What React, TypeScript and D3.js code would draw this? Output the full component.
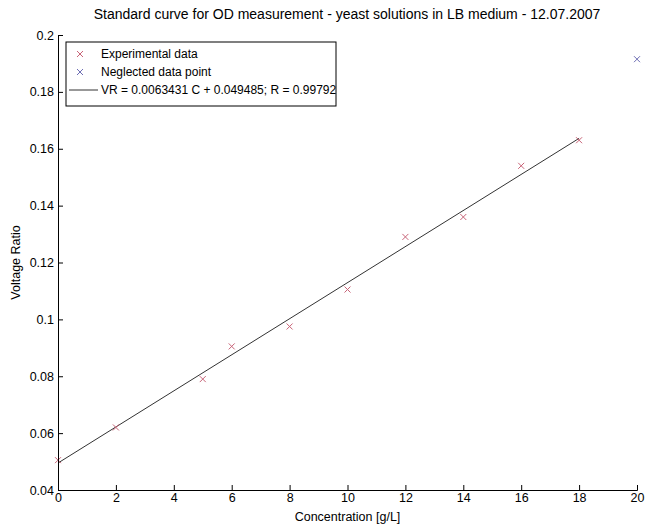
import React from "react";
import * as d3 from "d3";

const expX = [0, 2, 5, 6, 8, 10, 12, 14, 16, 18];
const expY = [0.0505, 0.062, 0.079, 0.0905, 0.0975, 0.1105, 0.129, 0.136, 0.154, 0.163];
const negX = [20];
const negY = [0.1915];
const fitSlope = 0.0063431;
const fitIntercept = 0.049485;
const fitRange = [0, 18];
const xTicks = [0, 2, 4, 6, 8, 10, 12, 14, 16, 18, 20];
const yTicks = [0.04, 0.06, 0.08, 0.1, 0.12, 0.14, 0.16, 0.18, 0.2];
const legendLabels = [
  "Experimental data",
  "Neglected data point",
  "VR = 0.0063431 C + 0.049485; R = 0.99792",
];
const title = "Standard curve for OD measurement - yeast solutions in LB medium - 12.07.2007";

const W = 647, H = 524;
const M = { left: 58, right: 637, top: 35, bottom: 490 };
const FONT = "Liberation Sans, Arial, sans-serif";
const RED = "#c86478";
const BLUE = "#6e6eb4";

function Cross({ x, y, color }: { x: number; y: number; color: string }) {
  const s = 3;
  return (
    <g stroke={color} strokeWidth={1}>
      <line x1={x - s} y1={y - s} x2={x + s} y2={y + s} />
      <line x1={x - s} y1={y + s} x2={x + s} y2={y - s} />
    </g>
  );
}

export default function App() {
  const x = d3.scaleLinear().domain([0, 20]).range([M.left, M.right]);
  const y = d3.scaleLinear().domain([0.04, 0.2]).range([M.bottom, M.top]);
  const xRef = React.useRef<SVGGElement>(null);
  const yRef = React.useRef<SVGGElement>(null);

  React.useEffect(() => {
    const ax = d3.axisBottom(x).tickValues(xTicks).tickSize(-5).tickPadding(3).tickFormat(d3.format("d"));
    const ay = d3.axisLeft(y).tickValues(yTicks).tickSize(-5).tickPadding(4).tickFormat((d: any) => String(+d.toFixed(2)));
    const gx = d3.select(xRef.current!).call(ax as any);
    const gy = d3.select(yRef.current!).call(ay as any);
    for (const g of [gx, gy]) {
      g.select(".domain").attr("stroke", "#000");
      g.selectAll(".tick line").attr("stroke", "#000");
      g.selectAll("text").attr("font-family", FONT).attr("font-size", 12.5).attr("fill", "#000");
    }
  }, []);

  const fitLine = d3.line<number>().x((c) => x(c)).y((c) => y(fitSlope * c + fitIntercept));

  const lx = 66, ly = 42, lw = 270, lh = 64;

  return (
    <svg width={W} height={H} style={{ position: "absolute", left: 0, top: 0, background: "#fff" }}>
      <rect width={W} height={H} fill="#fff" />
      <text x={347} y={19} textAnchor="middle" fontFamily={FONT} fontSize={14}>{title}</text>
      <path d={fitLine(fitRange) || ""} fill="none" stroke="#333" strokeWidth={1} />
      {expX.map((v, i) => <Cross key={i} x={x(v)} y={y(expY[i])} color={RED} />)}
      {negX.map((v, i) => <Cross key={"n" + i} x={x(v)} y={y(negY[i])} color={BLUE} />)}
      <g ref={xRef} transform={`translate(0,${M.bottom})`} />
      <g ref={yRef} transform={`translate(${M.left},0)`} />
      <text x={(M.left + M.right) / 2} y={521} textAnchor="middle" fontFamily={FONT} fontSize={12.5}>Concentration [g/L]</text>
      <text transform={`translate(20,${(M.top + M.bottom) / 2}) rotate(-90)`} textAnchor="middle" fontFamily={FONT} fontSize={12.5}>Voltage Ratio</text>
      <g>
        <rect x={lx} y={ly} width={lw} height={lh} fill="#fff" stroke="#000" strokeWidth={1} />
        <Cross x={lx + 14} y={ly + 12} color={RED} />
        <Cross x={lx + 14} y={ly + 30} color={BLUE} />
        <line x1={lx + 3} x2={lx + 32} y1={ly + 48} y2={ly + 48} stroke="#333" />
        {legendLabels.map((t, i) => (
          <text key={i} x={lx + 35} y={ly + 16 + i * 18} fontFamily={FONT} fontSize={12}>{t}</text>
        ))}
      </g>
    </svg>
  );
}
